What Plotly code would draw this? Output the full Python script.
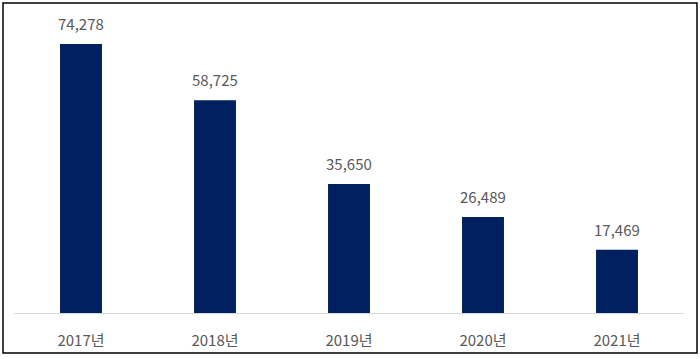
import plotly.graph_objects as go

categories = ["2017년", "2018년", "2019년", "2020년", "2021년"]
values = [74278, 58725, 35650, 26489, 17469]
labels = ["74,278", "58,725", "35,650", "26,489", "17,469"]

FONT = "Noto Sans CJK KR"
fig = go.Figure()
fig.add_trace(go.Bar(
    x=categories, y=values,
    marker=dict(color="#002060", line=dict(width=0)),
    width=0.313,
    hoverinfo="skip",
))
for c, v, t in zip(categories, values, labels):
    fig.add_annotation(x=c, y=v, text=t, showarrow=False, yanchor="bottom",
                       yshift=8, font=dict(family=FONT, size=15, color="#595959"))

L, R, T, B = 14, 16, 20, 46
W, H = 700, 359
pw, ph = W - L - R, H - T - B
x0 = (3 - L) / pw
x1 = (697 - L) / pw
y1 = (H - B - 3) / ph
y0 = (H - B - 353) / ph
fig.add_shape(type="rect", xref="paper", yref="paper", x0=x0, x1=x1, y0=y0, y1=y1,
              line=dict(color="black", width=1.5), fillcolor="rgba(0,0,0,0)")

fig.update_layout(
    width=W, height=H,
    margin=dict(l=L, r=R, t=T, b=B, autoexpand=False),
    plot_bgcolor="white", paper_bgcolor="white",
    showlegend=False,
    bargap=0.687,
    xaxis=dict(showline=True, linecolor="#d9d9d9", linewidth=1, ticks="",
               ticklabelstandoff=14, automargin=False,
               tickfont=dict(family=FONT, size=15, color="#595959"), showgrid=False),
    yaxis=dict(range=[0, 293 * 276.13], visible=False, showgrid=False, zeroline=False,
               automargin=False),
)
fig.write_html("out.html", config={"displayModeBar": False, "staticPlot": True},
               post_script="document.body.style.margin='0';document.body.style.overflow='hidden';")
